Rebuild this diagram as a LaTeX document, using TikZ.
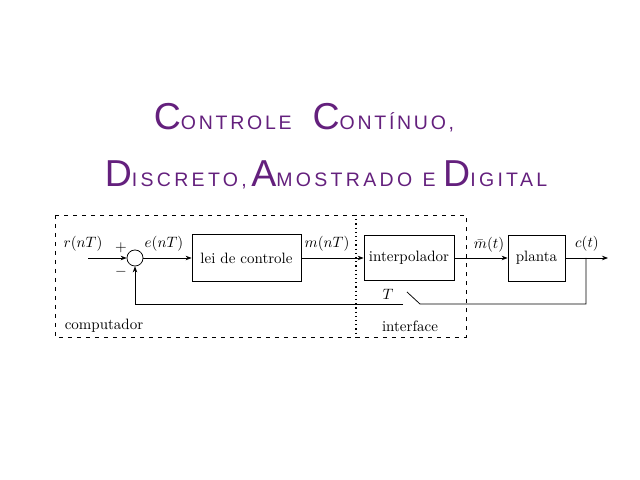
\documentclass[tikz,border=0pt]{standalone}
\usepackage{fontspec}
\newfontfamily\titlefont[LetterSpace=14]{Liberation Sans}
\newfontfamily\titlefontb[LetterSpace=17]{Liberation Sans}
\usetikzlibrary{arrows.meta}
\definecolor{titlepurple}{RGB}{100,32,125}
\newcommand{\bigL}[1]{{\fontsize{25}{25}\selectfont #1}}
\newcommand{\smL}[1]{{\fontsize{13}{13}\selectfont #1}}
\begin{document}
\begin{tikzpicture}[x=0.6667pt,y=-0.6667pt,
  blk/.style={draw, line width=0.5pt, inner sep=0pt},
  sig/.style={-{Stealth[length=4pt,width=3pt]}, line width=0.5pt},
  wire/.style={line width=0.5pt},
  lbl/.style={inner sep=0pt},
  ttl/.style={inner sep=0pt, text=titlepurple, font=\titlefont}]
\useasboundingbox (0,0) rectangle (640,480);
% title
\node[ttl] (t1) at (304,118) {\bigL{C}\smL{ONTROLE}\hspace{14pt}\bigL{C}\smL{ONTÍNUO,}};
\node[ttl, font=\titlefontb] (t2) at (326,175) {\bigL{D}\smL{ISCRETO,}\hspace{3pt}\bigL{A}\smL{MOSTRADO}\hspace{7pt}\smL{E}\hspace{5pt}\bigL{D}\smL{IGITAL}};
% frames
\draw[dashed, line width=0.6pt] (55,215) rectangle (466,337);
\draw[dotted, line width=0.8pt] (356,215) -- (356,337);
% blocks
\node[circle, draw, line width=0.5pt, minimum size=10.7pt, inner sep=0pt] (sum) at (135,258) {};
\node[blk, minimum width=72.7pt, minimum height=31.3pt] (lei) at (246.5,258) {lei de controle};
\node[blk, minimum width=60pt, minimum height=30pt] (interp) at (409,258) {interpolador};
\node[blk, minimum width=38pt, minimum height=30.7pt] (planta) at (536.5,258) {planta};
% coordinates
\coordinate (rin) at (88,258);
\coordinate (cout) at (608,258);
\coordinate (tap) at (586,258);
\coordinate (sw1) at (420,304);
\coordinate (sw2) at (407,292);
\coordinate (fb2) at (403,304);
% connectors
\draw[sig] (rin) -- (sum);
\draw[sig] (sum) -- (lei);
\draw[sig] (lei) -- (interp);
\draw[sig] (interp) -- (planta);
\draw[sig] (planta) -- (cout);
\draw[wire] (tap) |- (sw1) -- (sw2);
\draw[sig] (fb2) -| (sum.south);
% labels
\node[lbl] (lr) at (83,244) {$r(nT)$};
\node[lbl] (lp) at (121,248) {$+$};
\node[lbl] (lm) at (121,272) {$-$};
\node[lbl] (le) at (164,244) {$e(nT)$};
\node[lbl] (lmm) at (327,244) {$m(nT)$};
\node[lbl] (lmb) at (489,245) {$\bar{m}(t)$};
\node[lbl] (lc) at (587,244) {$c(t)$};
\node[lbl] (lT) at (388,294) {$T$};
\node[lbl] (lcomp) at (104,326) {computador};
\node[lbl] (lint) at (410,326) {interface};
\end{tikzpicture}
\end{document}
